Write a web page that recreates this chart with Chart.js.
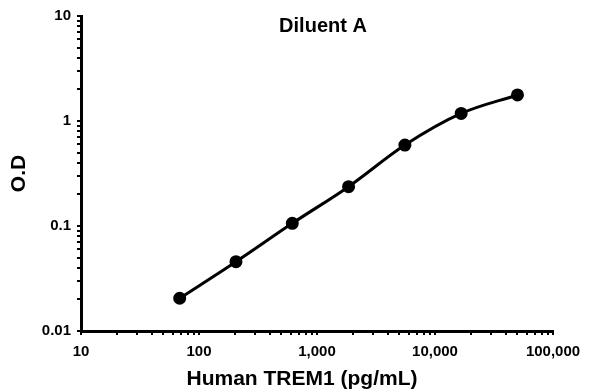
<!DOCTYPE html>
<html>
<head>
<meta charset="utf-8">
<script src="https://cdn.jsdelivr.net/npm/chart.js@4/dist/chart.umd.min.js"></script>
<style>
  html, body { margin: 0; padding: 0; background: #fff; }
  #wrap { width: 596px; height: 392px; }
</style>
</head>
<body>
<div id="wrap"><canvas id="chart" width="596" height="392"></canvas></div>
<script>
// 3-fold dilution standard curve
const concentrations = [68.6, 205.8, 617.3, 1852, 5556, 16667, 50000];
const odValues = [0.0205, 0.0457, 0.106, 0.237, 0.59, 1.18, 1.77];
const xTickValues = [10, 100, 1000, 10000, 100000];
const yTickValues = [0.01, 0.1, 1, 10];
const chartTitle = "Diluent A";
const xTitle = "Human TREM1 (pg/mL)";
const yTitle = "O.D";

const FONT = "'Liberation Sans', Arial, sans-serif";

const isDecade = (v, list) => list.some((t) => Math.abs(Math.log10(v) - Math.log10(t)) < 1e-6);

// chart title sits inside the plot area; x title is a bit left of centre in the original
const extraText = {
  id: "extraText",
  afterDraw(c) {
    const { ctx, chartArea } = c;
    ctx.save();
    ctx.fillStyle = "#000";
    ctx.textAlign = "center";
    ctx.textBaseline = "middle";
    ctx.font = "bold 20px " + FONT;
    ctx.fillText(chartTitle, (chartArea.left + chartArea.right) / 2 + 6, chartArea.top + 10);
    ctx.font = "bold 21px " + FONT;
    ctx.fillText(xTitle, (chartArea.left + chartArea.right) / 2 - 15, chartArea.bottom + 48);
    ctx.restore();
  },
};

const points = concentrations.map((x, i) => ({ x, y: odValues[i] }));

new Chart(document.getElementById("chart").getContext("2d"), {
  type: "line",
  data: {
    datasets: [{
      data: points,
      borderColor: "#000",
      backgroundColor: "#000",
      borderWidth: 3,
      pointRadius: 5,
      pointHoverRadius: 5,
      tension: 0.3,
      cubicInterpolationMode: "monotone",
      fill: false,
    }],
  },
  options: {
    responsive: false,
    animation: false,
    layout: { padding: { left: 0, top: 16, right: 43, bottom: 0 } },
    plugins: { legend: { display: false }, tooltip: { enabled: false } },
    scales: {
      x: {
        type: "logarithmic",
        min: 10,
        max: 100000,
        afterFit: (s) => { s.height = 61; },
        afterBuildTicks: (s) => {
          const t = [];
          for (let e = 1; e < 5; e++)
            for (let k = 1; k < 10; k++) t.push({ value: k * Math.pow(10, e) });
          t.push({ value: 100000 });
          s.ticks = t;
        },
        border: { color: "#000", width: 3 },
        grid: { drawOnChartArea: false, color: "#000", tickLength: 4, lineWidth: 2 },
        ticks: {
          autoSkip: false,
          maxRotation: 0,
          padding: 8,
          color: "#000",
          font: { family: FONT, size: 15, weight: "bold" },
          callback: (v) => isDecade(v, xTickValues) ? v.toLocaleString("en-US") : "",
        },
        title: { display: false },
      },
      y: {
        type: "logarithmic",
        min: 0.01,
        max: 10,
        afterFit: (s) => { s.width = 81; },
        afterBuildTicks: (s) => {
          const t = [];
          for (let e = -2; e < 1; e++)
            for (let k = 1; k < 10; k++) t.push({ value: +(k * Math.pow(10, e)).toPrecision(3) });
          t.push({ value: 10 });
          s.ticks = t;
        },
        border: { color: "#000", width: 3 },
        grid: { drawOnChartArea: false, color: "#000", tickLength: 4, lineWidth: 2 },
        ticks: {
          autoSkip: false,
          padding: 6,
          color: "#000",
          font: { family: FONT, size: 15, weight: "bold" },
          callback: (v) => isDecade(v, yTickValues) ? String(v) : "",
        },
        title: {
          display: true,
          text: yTitle,
          color: "#000",
          font: { family: FONT, size: 21, weight: "bold" },
          padding: { top: 7, bottom: 0 },
        },
      },
    },
  },
  plugins: [extraText],
});
</script>
</body>
</html>
